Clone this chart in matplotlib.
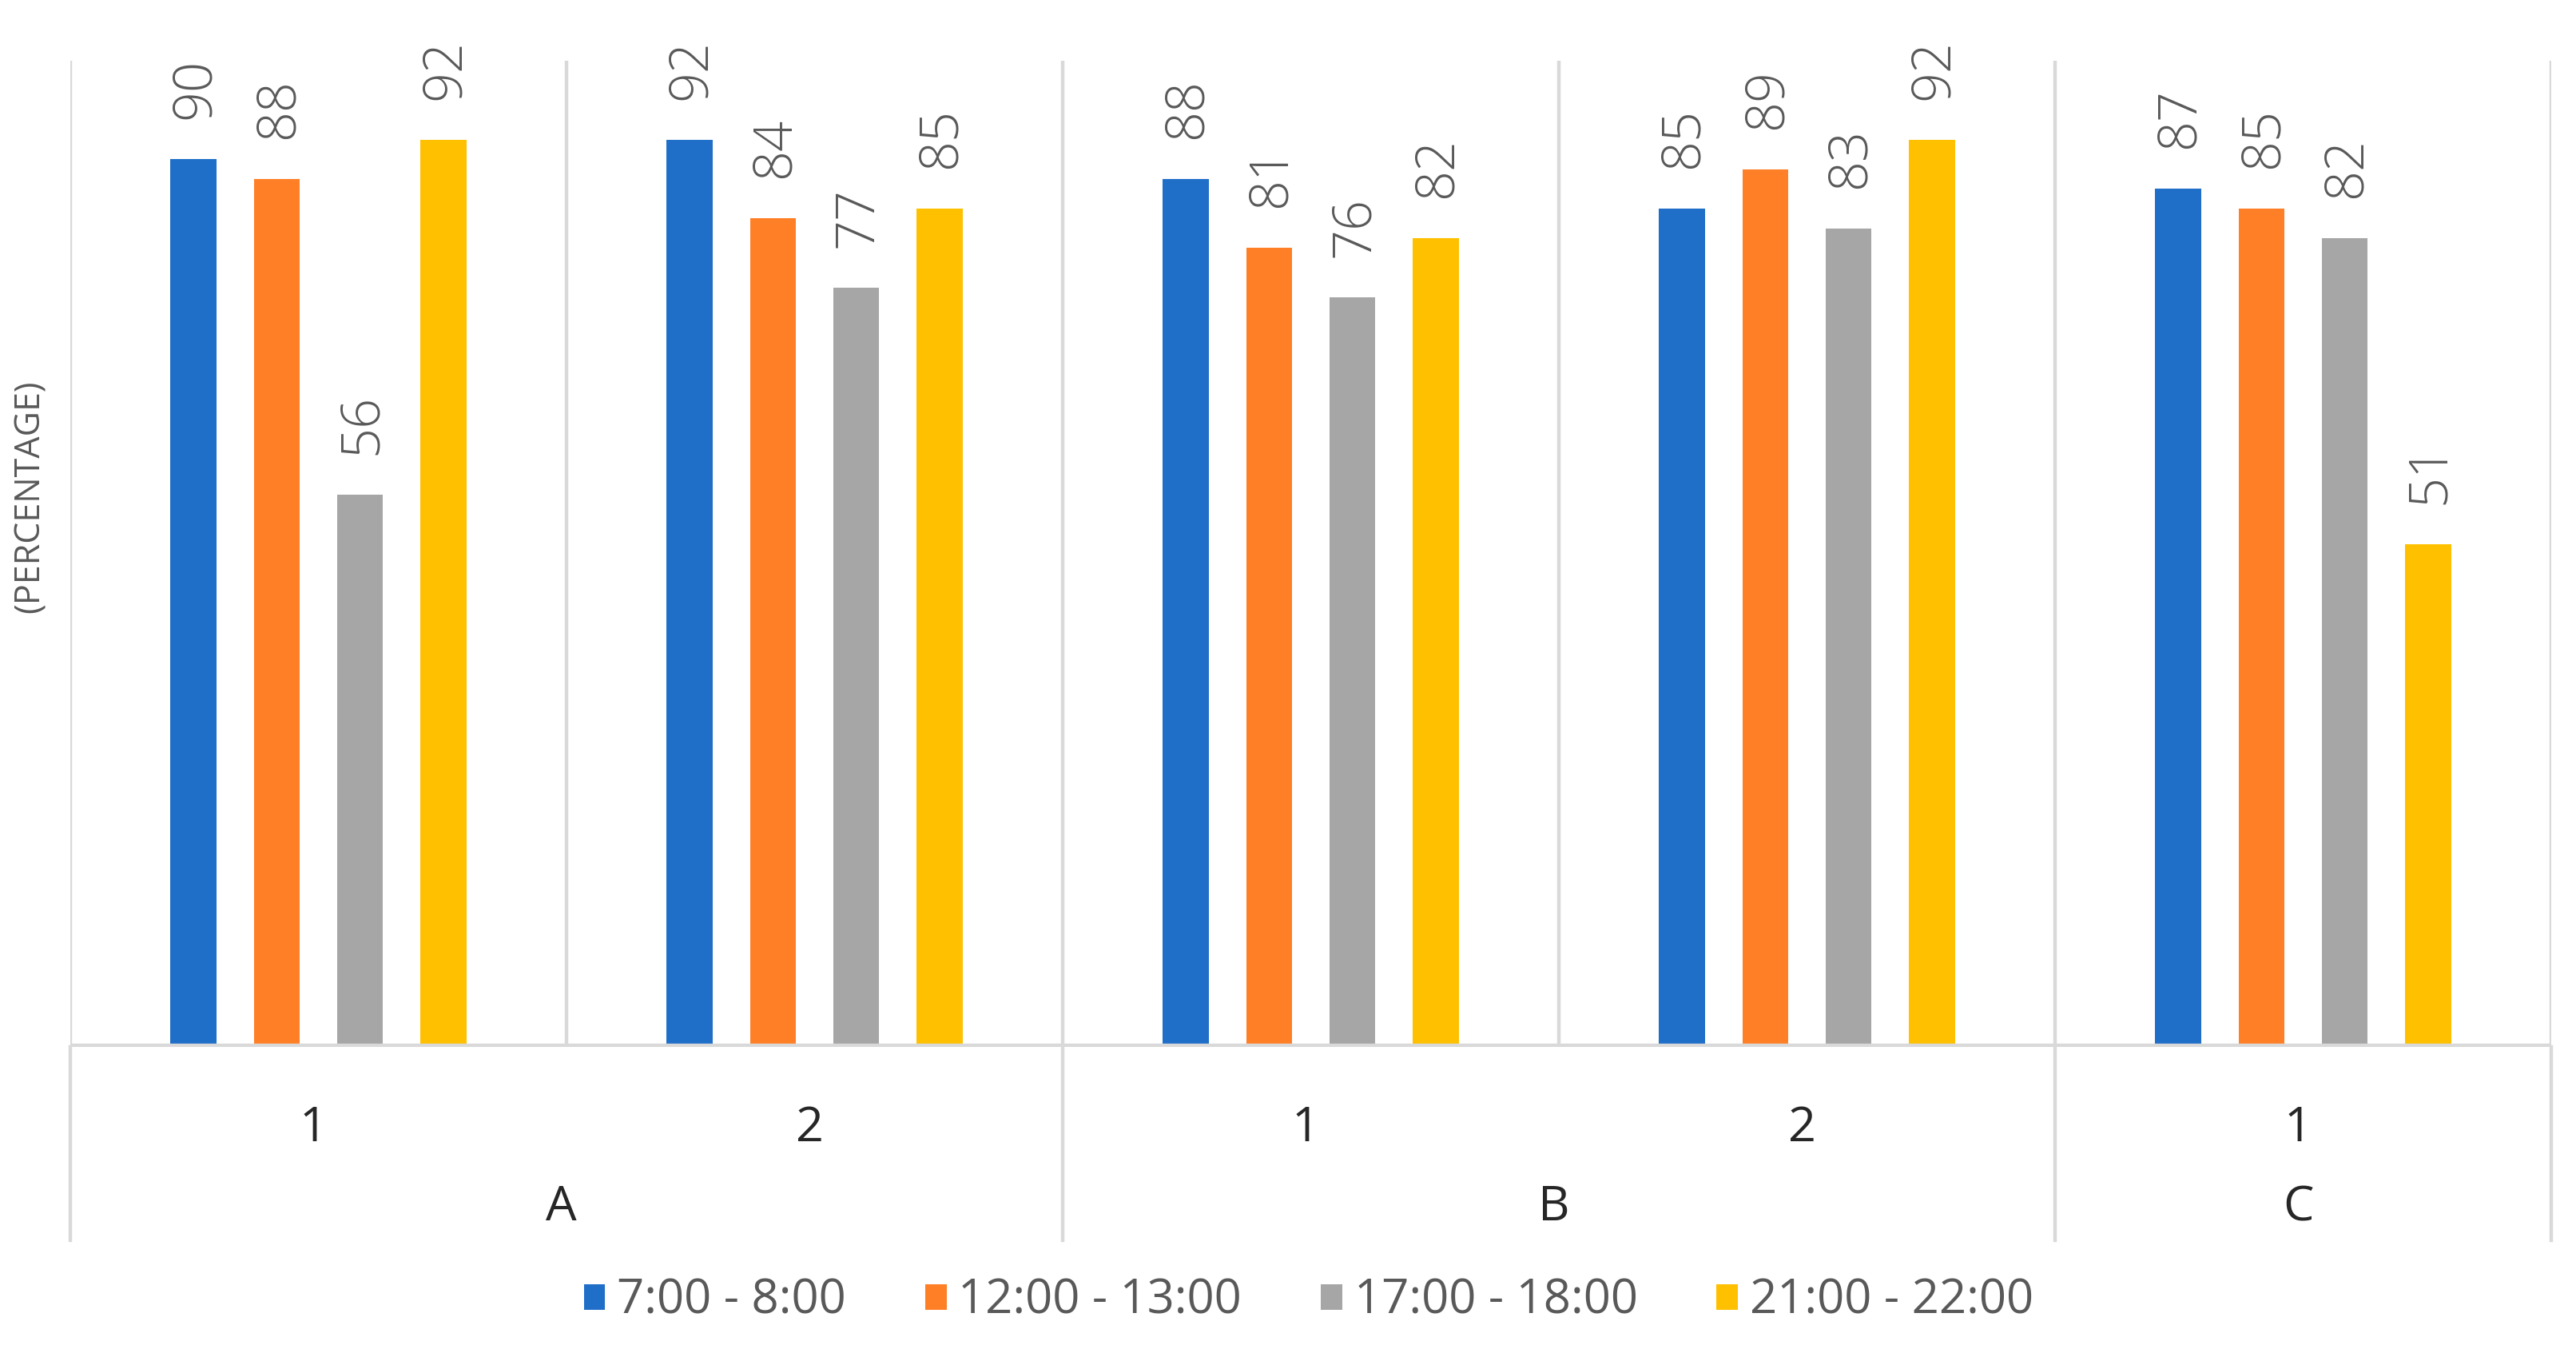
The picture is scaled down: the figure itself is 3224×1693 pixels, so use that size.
import matplotlib.pyplot as plt
import numpy as np
from matplotlib.patches import Patch
from matplotlib.transforms import blended_transform_factory

plt.rcParams["font.family"] = ["Open Sans", "DejaVu Sans"]

# DATA
sub_labels = ["1", "2", "1", "2", "1"]
group_labels = ["A", "B", "C"]
group_sizes = [2, 2, 1]
series_names = ["7:00 - 8:00", "12:00 - 13:00", "17:00 - 18:00", "21:00 - 22:00"]
s_7_8 = [90, 92, 88, 85, 87]
s_12_13 = [88, 84, 81, 89, 85]
s_17_18 = [56, 77, 76, 83, 82]
s_21_22 = [92, 85, 82, 92, 51]

series = [s_7_8, s_12_13, s_17_18, s_21_22]
colors = ["#1F6FC8", "#FF7F27", "#A6A6A6", "#FFC000"]
GRID = "#D9D9D9"
TXT = "#595959"

fig = plt.figure(figsize=(16.12, 8.465), dpi=200)
ax = fig.add_axes([0.0273, 0.2262, 0.9631, 0.7289])

x = np.arange(len(sub_labels))
width = 0.092
step = 0.168

for i, (vals, col) in enumerate(zip(series, colors)):
    pos = x + (i - 1.5) * step
    ax.bar(pos, vals, width=width, color=col, zorder=3)
    for px, v in zip(pos, vals):
        ax.annotate(str(v), (px, v), xytext=(1, 18), textcoords="offset points",
                    rotation=90, ha="center", va="bottom",
                    fontsize=24, color=TXT, fontweight="light")

ax.set_xlim(-0.5, len(sub_labels) - 0.5)
ax.set_ylim(0, 100)
for s in ax.spines.values():
    s.set_visible(False)
ax.set_xticks([])
ax.set_yticks([])

# vertical separators in plot area
for b in np.arange(-0.5, len(sub_labels), 1.0):
    ax.axvline(b, color=GRID, lw=1.6, zorder=1)

# baseline
ax.axhline(0, color=GRID, lw=3, zorder=4)

# multi-level category axis
trans = blended_transform_factory(ax.transData, ax.transAxes)
bounds = np.concatenate([[0], np.cumsum(group_sizes)]) - 0.5
for b in bounds:
    ax.plot([b, b], [0, -0.196], transform=trans, color=GRID, lw=1.6,
            clip_on=False)

for xi, lab in zip(x, sub_labels):
    ax.text(xi - 0.01, -0.083, lab, transform=trans, ha="center", va="center",
            fontsize=22, color="#262626")

for j, lab in enumerate(group_labels):
    cx = (bounds[j] + bounds[j + 1]) / 2
    ax.text(cx - 0.01, -0.163, lab, transform=trans, ha="center", va="center",
            fontsize=22, color="#262626")

fig.text(0.0115, 0.633, "(PERCENTAGE)", rotation=90, ha="center",
         va="center", fontsize=15.5, color=TXT)

handles = [Patch(facecolor=c, edgecolor="none") for c in colors]
fig.legend(handles, series_names, loc="center", bbox_to_anchor=(0.508, 0.0384),
           ncol=4, frameon=False, fontsize=21.5, handlelength=0.45,
           handleheight=0.45, handletextpad=0.25, columnspacing=1.65,
           labelcolor=TXT)

fig.savefig("out.png", dpi=200)
